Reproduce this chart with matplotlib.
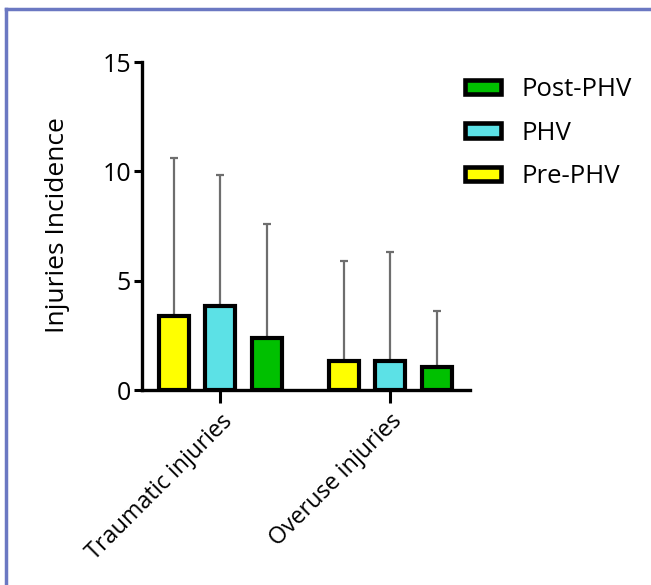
import numpy as np
import matplotlib
matplotlib.use('Agg')
from matplotlib import pyplot as plt
from matplotlib.patches import Patch
from matplotlib.lines import Line2D

# --- data ---
categories = ['Traumatic injuries', 'Overuse injuries']
groups = ['Pre-PHV', 'PHV', 'Post-PHV']
pre_phv = [3.38, 1.34]
phv = [3.85, 1.34]
post_phv = [2.39, 1.04]
pre_phv_sd = [7.22, 4.56]
phv_sd = [5.97, 4.98]
post_phv_sd = [5.18, 2.58]

colors = ['#ffff00', '#5ce1e6', '#00c000']
FONT = 'Open Sans'

plt.rcParams['font.family'] = [FONT, 'DejaVu Sans']

fig = plt.figure(figsize=(6.51, 5.85), dpi=100)
ax = fig.add_axes([142 / 651, 1 - 390 / 585, (470 - 142) / 651, (390 - 62) / 585])

x = np.arange(len(categories))
offset = 0.2735
width = 0.176
series = [(pre_phv, pre_phv_sd), (phv, phv_sd), (post_phv, post_phv_sd)]
for i, (vals, sd) in enumerate(series):
    pos = x + (i - 1) * offset
    ax.errorbar(pos, vals, yerr=[np.zeros(len(sd)), sd], fmt='none',
                ecolor='#6e6e6e', elinewidth=1.6, capsize=3, capthick=1.6, zorder=1)
    ax.bar(pos, vals, width=width, color=colors[i], edgecolor='black',
           linewidth=3, zorder=2)

ax.set_xlim(-0.459, 1.47)
ax.set_ylim(0, 15)
ax.set_yticks([0, 5, 10, 15])
ax.set_xticks(x)
ax.set_xticklabels(categories, rotation=45, ha='right', rotation_mode='anchor',
                   fontsize=16.8)
ax.tick_params(axis='y', labelsize=18, width=2.2, length=6, pad=2)
ax.tick_params(axis='x', width=2.2, length=9, pad=5)
for s in ['top', 'right']:
    ax.spines[s].set_visible(False)
for s in ['left', 'bottom']:
    ax.spines[s].set_linewidth(2.4)

fig.text(57 / 651, 1 - 225 / 585, 'Injuries Incidence', rotation=90,
         ha='center', va='center', fontsize=19)

# legend (reverse order like the original)
handles = [Patch(facecolor=colors[i], edgecolor='black', linewidth=3.3) for i in [2, 1, 0]]
labels = [groups[i] for i in [2, 1, 0]]
fig.legend(handles, labels, loc='upper left', bbox_to_anchor=(465 / 651, 1 - 77 / 585),
           frameon=False, fontsize=18.5, handlelength=1.4, handleheight=0.5,
           labelspacing=0.72, handletextpad=0.8, borderpad=0, borderaxespad=0)

# page border (top and left only)
fig.add_artist(Line2D([6 / 651, 1], [1 - 9 / 585, 1 - 9 / 585], color='#6b78c2', lw=2.5))
fig.add_artist(Line2D([6 / 651, 6 / 651], [0, 1 - 9 / 585], color='#6b78c2', lw=2.5))

plt.savefig('out.png', dpi=100)
